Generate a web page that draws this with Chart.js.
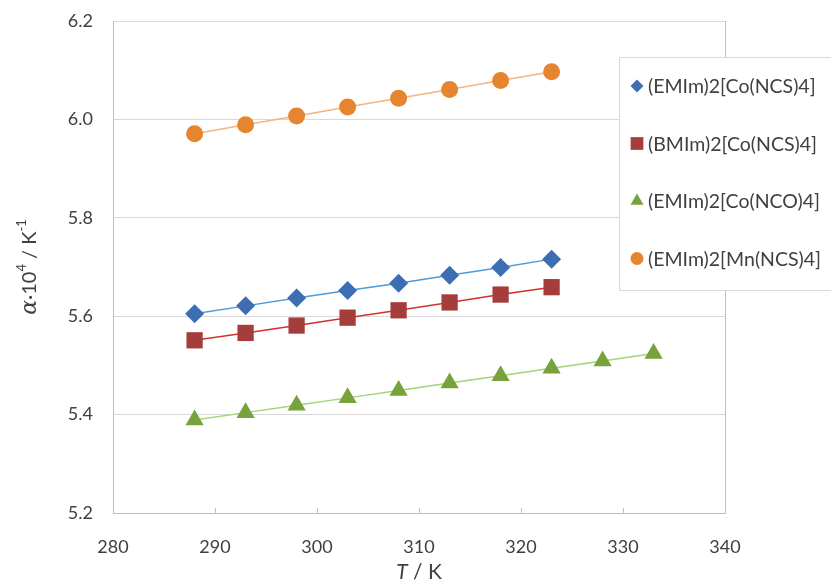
<!DOCTYPE html>
<html>
<head>
<meta charset="utf-8">
<script src="https://cdn.jsdelivr.net/npm/chart.js@4.4.1/dist/chart.umd.min.js"></script>
<style>
    body { margin: 0; background: #fff; }
    #wrap { width: 831px; height: 583px; }
</style>
</head>
<body>
<div id="wrap"><canvas id="chart" width="831" height="583"></canvas></div>
<script>
// temperatures (K)
const tempsNcs = [288, 293, 298, 303, 308, 313, 318, 323];
const tempsNco = [288, 293, 298, 303, 308, 313, 318, 323, 328, 333];

// alpha * 10^4 / K^-1
const emimCoNcs = [5.605, 5.621, 5.637, 5.652, 5.667, 5.683, 5.699, 5.716];
const bmimCoNcs = [5.551, 5.566, 5.581, 5.597, 5.612, 5.628, 5.644, 5.659];
const emimCoNco = [5.389, 5.404, 5.419, 5.434, 5.449, 5.464, 5.479, 5.494, 5.509, 5.524];
const emimMnNcs = [5.971, 5.989, 6.007, 6.025, 6.043, 6.061, 6.079, 6.097];

const seriesLabels = ["(EMIm)2[Co(NCS)4]", "(BMIm)2[Co(NCS)4]", "(EMIm)2[Co(NCO)4]", "(EMIm)2[Mn(NCS)4]"];
const xTicks = [280, 290, 300, 310, 320, 330, 340];
const yTicks = [5.2, 5.4, 5.6, 5.8, 6.0, 6.2];

const FONT = "Lato, 'Liberation Sans', sans-serif";

function pts(xs, ys) {
    return xs.map((x, i) => ({ x, y: ys[i] }));
}

function series(label, xs, ys, marker, line, style, radius) {
    return {
        label,
        data: pts(xs, ys),
        showLine: true,
        borderColor: line,
        borderWidth: 1.5,
        pointStyle: style,
        pointRadius: radius,
        pointHoverRadius: radius,
        pointBackgroundColor: marker,
        pointBorderColor: marker,
        pointBorderWidth: 0
    };
}

// frame, inner tick marks, legend box and axis titles
const decor = {
    id: "decor",
    beforeDatasetsDraw(chart) {
        const { ctx, chartArea: a, scales: { x } } = chart;
        ctx.save();
        ctx.strokeStyle = "#bfbfbf";
        ctx.lineWidth = 1;
        ctx.beginPath();
        ctx.moveTo(Math.round(a.right) + 0.5, a.top);
        ctx.lineTo(Math.round(a.right) + 0.5, a.bottom);
        xTicks.forEach(t => {
            const px = Math.round(x.getPixelForValue(t)) + 0.5;
            ctx.moveTo(px, a.bottom);
            ctx.lineTo(px, a.bottom - 5);
        });
        ctx.stroke();
        ctx.restore();
    },
    afterDraw(chart) {
        const { ctx, chartArea: a } = chart;
        ctx.save();

        // legend
        ctx.fillStyle = "#fff";
        ctx.fillRect(619, 57, 215, 233);
        ctx.strokeStyle = "#d9d9d9";
        ctx.lineWidth = 1;
        ctx.strokeRect(619.5, 57.5, 215, 233);
        ctx.font = "19.5px " + FONT;
        ctx.textBaseline = "middle";
        ctx.textAlign = "left";
        chart.data.datasets.forEach((ds, i) => {
            const y = 86 + i * 57.5;
            ctx.fillStyle = ds.pointBackgroundColor;
            Chart.helpers.drawPoint(ctx, {
                pointStyle: ds.pointStyle,
                radius: ds.pointStyle === "triangle" ? 7.5 : ds.pointStyle === "rect" ? 9 : 6.5,
                rotation: 0,
                borderWidth: 0
            }, 637, y);
            ctx.fillStyle = "#404040";
            ctx.fillText(ds.label, 648, y + 1);
        });

        // x title: T / K
        ctx.fillStyle = "#404040";
        ctx.textBaseline = "middle";
        const cx = (a.left + a.right) / 2;
        const f1 = "italic 21px " + FONT, f2 = "21px " + FONT;
        ctx.font = f1; const wT = ctx.measureText("T").width;
        ctx.font = f2; const wR = ctx.measureText(" / K").width;
        let sx = cx - (wT + wR) / 2;
        ctx.font = f1; ctx.fillText("T", sx, 572);
        ctx.font = f2; ctx.fillText(" / K", sx + wT, 572);

        // y title: alpha·10^4 / K^-1
        const parts = [
            ["α", "italic 22px 'DejaVu Serif', serif", 0],
            ["·10", "20px " + FONT, 0],
            ["4", "13px " + FONT, -8],
            [" / K", "20px " + FONT, 0],
            ["-1", "13px " + FONT, -8]
        ];
        let total = 0;
        parts.forEach(p => { ctx.font = p[1]; p.push(ctx.measureText(p[0]).width); total += p[3]; });
        ctx.translate(30, (a.top + a.bottom) / 2);
        ctx.rotate(-Math.PI / 2);
        let px = -total / 2;
        parts.forEach(p => {
            ctx.font = p[1];
            ctx.fillText(p[0], px, p[2]);
            px += p[3];
        });
        ctx.restore();
    }
};

new Chart(document.getElementById("chart"), {
    type: "scatter",
    data: {
        datasets: [
            series(seriesLabels[0], tempsNcs, emimCoNcs, "#3d6db3", "#4d9bd8", "rectRot", 9.5),
            series(seriesLabels[1], tempsNcs, bmimCoNcs, "#a53d3b", "#d2312e", "rect", 11.5),
            series(seriesLabels[2], tempsNco, emimCoNco, "#78a23c", "#a3d477", "triangle", 10.5),
            series(seriesLabels[3], tempsNcs, emimMnNcs, "#e5852f", "#f6b37c", "circle", 8.5)
        ]
    },
    options: {
        responsive: false,
        animation: false,
        devicePixelRatio: 1,
        layout: { padding: { top: 21, right: 106, left: 0, bottom: 0 } },
        plugins: {
            legend: { display: false },
            tooltip: { enabled: false }
        },
        scales: {
            x: {
                type: "linear",
                min: 280,
                max: 340,
                afterFit(scale) { scale.height = 70; },
                afterBuildTicks(scale) { scale.ticks = xTicks.map(v => ({ value: v })); },
                grid: { display: false, drawTicks: false },
                border: { display: true, color: "#bfbfbf", width: 1 },
                ticks: {
                    padding: 23,
                    color: "#404040",
                    font: { family: FONT, size: 18 }
                }
            },
            y: {
                min: 5.2,
                max: 6.2,
                afterFit(scale) {
                    scale.width = 113;
                    scale.paddingTop = 0;
                    scale.paddingBottom = 0;
                },
                afterBuildTicks(scale) { scale.ticks = yTicks.map(v => ({ value: v })); },
                grid: { color: "#d9d9d9", drawTicks: false },
                border: { display: true, color: "#bfbfbf", width: 1 },
                ticks: {
                    padding: 20,
                    color: "#404040",
                    font: { family: FONT, size: 18 },
                    callback: v => v.toFixed(1)
                }
            }
        }
    },
    plugins: [decor]
});
</script>
</body>
</html>
